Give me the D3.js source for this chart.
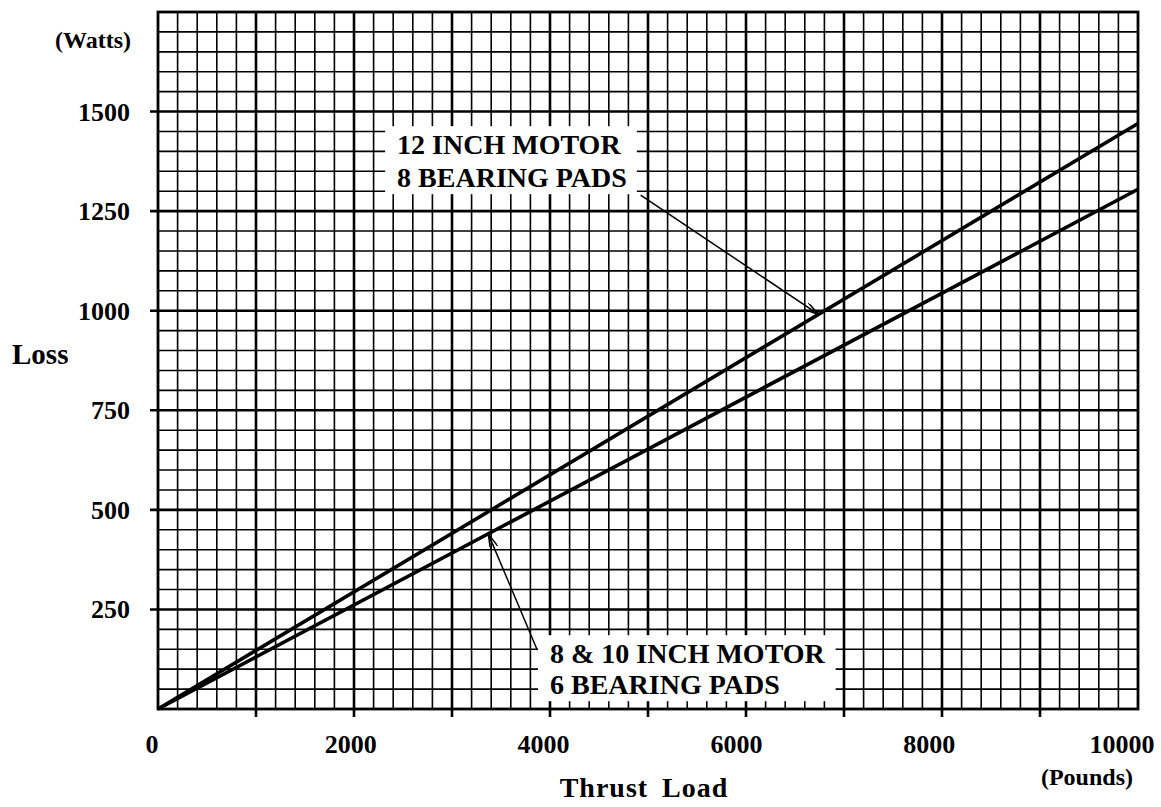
<!DOCTYPE html>
<html>
<head>
<meta charset="utf-8">
<script src="https://cdn.jsdelivr.net/npm/d3@7"></script>
<style>
  body { margin: 0; background: #fff; }
  text { font-family: "Liberation Serif", "Times New Roman", serif; font-weight: bold; fill: #000; }
</style>
</head>
<body>
<div id="chart"></div>
<script>
// data
var loads = [0, 10000];                 // Thrust Load (pounds)
var loss12 = [0, 1470];                 // 12 inch motor, 8 pads (watts)
var loss810 = [0, 1305];                // 8 & 10 inch motor, 6 pads (watts)
var xTickValues = [0, 2000, 4000, 6000, 8000, 10000];
var yTickValues = [250, 500, 750, 1000, 1250, 1500];
var label12 = ["12 INCH MOTOR", "8 BEARING PADS"];
var label810 = ["8 & 10 INCH MOTOR", "6 BEARING PADS"];

var svgWidth = 1161;
var svgHeight = 807;

var margin = { top: 12, right: 23, bottom: 98, left: 158 };
var width = svgWidth - margin.left - margin.right;
var height = svgHeight - margin.top - margin.bottom;

var svg = d3.select("#chart")
  .append("svg")
  .attr("width", svgWidth)
  .attr("height", svgHeight);

var chartGroup = svg.append("g")
  .attr("transform", `translate(${margin.left}, ${margin.top})`);

var xScale = d3.scaleLinear().domain([0, 10000]).range([0, width]);
var yScale = d3.scaleLinear().domain([0, 1750]).range([height, 0]);

// minor grid
chartGroup.append("g")
  .selectAll("line")
  .data(d3.range(200, 10000, 200).filter(d => d % 1000 != 0))
  .enter().append("line")
  .attr("x1", d => xScale(d)).attr("x2", d => xScale(d))
  .attr("y1", 0).attr("y2", height)
  .attr("stroke", "#000").attr("stroke-width", 1.6);

chartGroup.append("g")
  .selectAll("line")
  .data(d3.range(50, 1750, 50).filter(d => d % 250 != 0))
  .enter().append("line")
  .attr("x1", 0).attr("x2", width)
  .attr("y1", d => yScale(d)).attr("y2", d => yScale(d))
  .attr("stroke", "#000").attr("stroke-width", 1.6);

// major grid, ticks poke out past the axes
chartGroup.append("g")
  .selectAll("line")
  .data(d3.range(1000, 10000, 1000))
  .enter().append("line")
  .attr("x1", d => xScale(d)).attr("x2", d => xScale(d))
  .attr("y1", 0).attr("y2", height + 8)
  .attr("stroke", "#000").attr("stroke-width", 2.6);

chartGroup.append("g")
  .selectAll("line")
  .data(d3.range(250, 1750, 250))
  .enter().append("line")
  .attr("x1", -8).attr("x2", width)
  .attr("y1", d => yScale(d)).attr("y2", d => yScale(d))
  .attr("stroke", "#000").attr("stroke-width", 2.6);

// frame
chartGroup.append("rect")
  .attr("x", 0).attr("y", 0)
  .attr("width", width).attr("height", height)
  .attr("fill", "none")
  .attr("stroke", "#000").attr("stroke-width", 2.8);

// annotation labels with white boxes
function addNote(lines, x, y, lineGap) {
  var g = chartGroup.append("g");
  var t = g.append("text")
    .attr("x", xScale(x))
    .attr("y", yScale(y))
    .style("font-size", "28px");
  lines.forEach(function(s, i) {
    t.append("tspan")
      .attr("x", xScale(x))
      .attr("dy", i == 0 ? 0 : lineGap)
      .text(s);
  });
  var bb = t.node().getBBox();
  g.insert("rect", "text")
    .attr("x", bb.x - 12).attr("y", bb.y - 3)
    .attr("width", bb.width + 22).attr("height", bb.height + 4)
    .attr("fill", "#fff");
}
addNote(label12, 2440, 1393, 33);
addNote(label810, 4000, 115, 31);

// data lines
var line = d3.line()
  .x((d, i) => xScale(loads[i]))
  .y(d => yScale(d));

chartGroup.append("path")
  .datum(loss12)
  .attr("d", line)
  .attr("fill", "none")
  .attr("stroke", "#000").attr("stroke-width", 3.6);

chartGroup.append("path")
  .datum(loss810)
  .attr("d", line)
  .attr("fill", "none")
  .attr("stroke", "#000").attr("stroke-width", 3.6);

// arrows
svg.append("defs").append("marker")
  .attr("id", "arrow")
  .attr("viewBox", "0 0 16 8")
  .attr("refX", 15).attr("refY", 4)
  .attr("markerWidth", 16).attr("markerHeight", 8)
  .attr("markerUnits", "userSpaceOnUse")
  .attr("orient", "auto")
  .append("path")
  .attr("d", "M0,0 L15,4 L0,8")
  .attr("fill", "none")
  .attr("stroke", "#000").attr("stroke-width", 1.5);

function arrowTo(fx, fy, tx, series) {
  var ty = series[0] + (series[1] - series[0]) * tx / loads[1];
  chartGroup.append("line")
    .attr("x1", xScale(fx)).attr("y1", yScale(fy))
    .attr("x2", xScale(tx)).attr("y2", yScale(ty))
    .attr("stroke", "#000").attr("stroke-width", 1.5)
    .attr("marker-end", "url(#arrow)");
}
arrowTo(4925, 1290, 6740, loss12);
arrowTo(3870, 148, 3370, loss810);

// tick labels
chartGroup.selectAll(".xlab")
  .data(xTickValues)
  .enter().append("text")
  .attr("x", d => xScale(d) - (d == 0 ? 6 : d / 10000 * 16))
  .attr("y", height + 44)
  .attr("text-anchor", "middle")
  .style("font-size", "26px")
  .text(d => d);

chartGroup.selectAll(".ylab")
  .data(yTickValues)
  .enter().append("text")
  .attr("x", -28)
  .attr("y", d => yScale(d) + 9)
  .attr("text-anchor", "end")
  .style("font-size", "26px")
  .text(d => d);

// axis titles
svg.append("text")
  .attr("x", 131).attr("y", 48)
  .attr("text-anchor", "end")
  .style("font-size", "24px")
  .text("(Watts)");

svg.append("text")
  .attr("x", 12).attr("y", 364)
  .style("font-size", "29px")
  .text("Loss");

svg.append("text")
  .attr("x", 644).attr("y", 797)
  .attr("text-anchor", "middle")
  .style("font-size", "28px")
  .style("letter-spacing", "1px")
  .style("word-spacing", "6px")
  .text("Thrust Load");

svg.append("text")
  .attr("x", 1133).attr("y", 785)
  .attr("text-anchor", "end")
  .style("font-size", "24px")
  .text("(Pounds)");
</script>
</body>
</html>
